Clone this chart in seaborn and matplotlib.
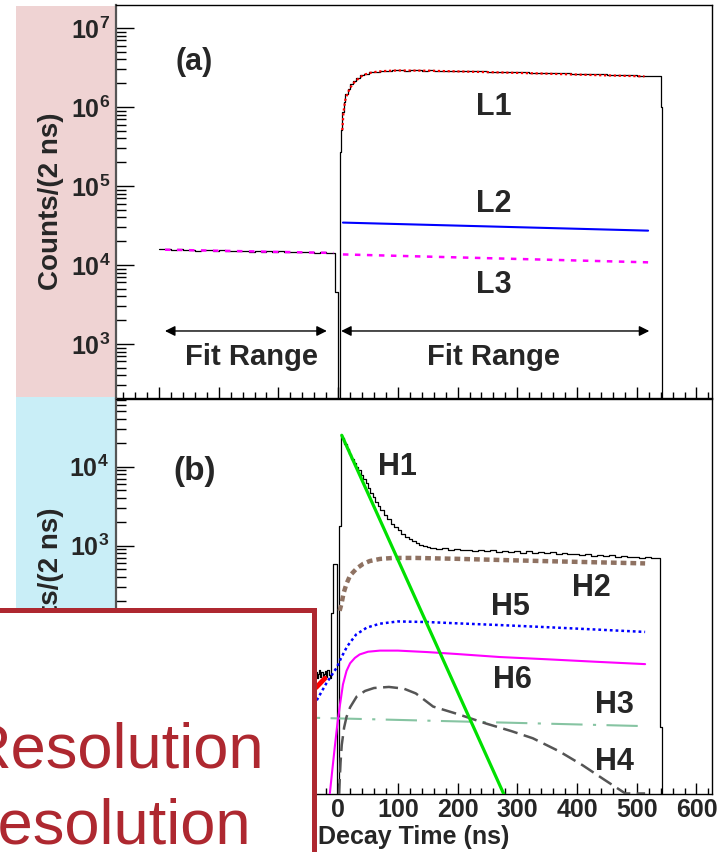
import numpy as np
import pandas as pd
import matplotlib
matplotlib.use("Agg")
import matplotlib.pyplot as plt
import seaborn as sns
from matplotlib.patches import Rectangle
from matplotlib.ticker import LogLocator, MultipleLocator, FuncFormatter, NullFormatter

# ---------------- data ----------------
# panel (a): black histogram, bin starts (ns) and counts per 2 ns
a_bin_start = [-300, -290, -280, -270, -260, -250, -240, -230, -220, -210, -200, -190, -180, -170,
               -160, -150, -140, -130, -120, -110, -100, -90, -80, -70, -60, -50, -40, -30, -20,
               -10, -6, -1, 3, 5, 7, 9, 12, 16, 20, 25, 30, 36, 44, 52, 60, 70, 80,
               90, 100, 110, 120, 130, 140, 150, 160, 170, 180, 190, 200, 210, 220, 230, 240, 250,
               260, 270, 280, 290, 300, 310, 320, 330, 340, 350, 360, 370, 380, 390, 400, 410, 420,
               430, 440, 450, 460, 470, 480, 490, 500, 510, 520, 530,
               540, 541.5, 543]
a_counts = [1.60e4, 1.57e4, 1.55e4, 1.58e4, 1.54e4, 1.56e4, 1.52e4, 1.55e4, 1.53e4, 1.50e4, 1.54e4,
            1.51e4, 1.49e4, 1.52e4, 1.50e4, 1.48e4, 1.51e4, 1.47e4, 1.50e4, 1.46e4, 1.49e4, 1.47e4,
            1.45e4, 1.48e4, 1.44e4, 1.46e4, 1.43e4, 1.45e4, 1.42e4,
            1.40e4, 4.6e3, 0, 2.7e5, 5.1e5, 8.7e5, 1.15e6, 1.45e6, 1.70e6, 1.95e6, 2.15e6, 2.35e6,
            2.52e6, 2.65e6, 2.74e6, 2.80e6, 2.85e6, 2.88e6,
            2.90e6, 2.91e6, 2.89e6, 2.92e6, 2.90e6, 2.88e6, 2.90e6, 2.87e6, 2.88e6, 2.86e6, 2.87e6,
            2.84e6, 2.85e6, 2.83e6, 2.82e6, 2.83e6, 2.80e6, 2.79e6, 2.80e6, 2.77e6, 2.76e6, 2.77e6,
            2.74e6, 2.73e6, 2.72e6, 2.71e6, 2.69e6, 2.70e6, 2.67e6, 2.66e6, 2.65e6, 2.63e6, 2.62e6,
            2.61e6, 2.59e6, 2.58e6, 2.57e6, 2.55e6, 2.54e6, 2.53e6, 2.51e6, 2.50e6, 2.48e6, 2.47e6,
            2.46e6,
            1.0e6, 4.3e4, 0]
a_end = 626

# panel (a) fit curves
L1_t = [7, 9, 12, 16, 20, 25, 30, 37, 45, 53, 65, 80, 100, 150, 200, 250, 300, 350, 400, 450, 513]
L1_c = [5.1e5, 8.7e5, 1.23e6, 1.5e6, 1.74e6, 1.98e6, 2.15e6, 2.4e6, 2.58e6, 2.7e6, 2.8e6, 2.86e6,
        2.9e6, 2.88e6, 2.82e6, 2.76e6, 2.7e6, 2.64e6, 2.57e6, 2.51e6, 2.44e6]
L2_t = [8, 519]
L2_c = [3.44e4, 2.72e4]
L3_t = [8, 519]
L3_c = [1.36e4, 1.08e4]
L3left_t = [-290, -8]
L3left_c = [1.56e4, 1.42e4]

# panel (b): black histogram
b_bin_start = [-300, -290, -280, -270, -260, -250, -240, -230, -220, -210, -200, -190, -180, -170,
               -160, -150, -140, -130, -120, -110, -100, -90, -80, -70, -60, -50,
               -40, -38, -36, -34, -32, -30, -28, -26, -24, -22, -20, -18, -16, -14,
               -12, -8, -2, 2, 4, 6, 10, 14, 18, 22, 26, 30, 34, 38, 42, 46, 50, 54, 58, 62, 66,
               70, 76, 82, 88, 94, 100, 106, 112, 118, 124, 130, 136, 142, 148,
               154, 164, 174, 184, 194, 204, 214, 224, 234, 244, 254, 264, 274, 284, 294, 304, 314,
               324, 334, 344, 354, 364, 374, 384, 394, 404, 414, 424, 434, 444, 454, 464, 474, 484,
               494, 504, 514, 524,
               534, 539, 543]
b_counts = [22, 20, 23, 21, 24, 19, 22, 25, 21, 23, 20, 22, 24, 21, 23, 20, 22, 25, 21, 23, 22, 20,
            24, 21, 23, 22,
            23, 25, 21, 24, 27, 22, 25, 20, 24, 26, 22, 27, 23, 21,
            140, 580, 0, 1800, 25000, 23000, 19500, 16800, 14500, 12600, 11000, 9900, 9000, 7900,
            6900, 6200, 5400, 4700, 4100, 3600, 3200,
            2800, 2450, 2150, 1900, 1720, 1560, 1420, 1300, 1210, 1140, 1070, 1030, 990, 970,
            945, 915, 930, 885, 905, 870, 895, 860, 880, 850, 875, 840, 865, 835, 850, 820, 845,
            815, 830, 800, 825, 790, 810, 780, 795, 765, 785, 750, 770, 740, 755, 725, 745, 715,
            730, 700, 720, 695,
            690, 5, 0]
b_end = 626

# panel (b) fit components
H1_t = [6, 278]
H1_c = [2.5e4, 0.7]
H2_t = [2.5, 6, 9, 14, 20, 31, 42, 53, 70, 92, 130, 200, 270, 350, 430, 514]
H2_c = [150, 190, 250, 330, 420, 515, 590, 640, 680, 700, 700, 682, 660, 637, 617, 597]
H3_t = [-290, 514]
H3_c = [7.4, 5.2]
H4_t = [1.5, 4, 6, 10, 14, 20, 31, 45, 60, 85, 110, 130, 159, 200, 248, 290, 326, 370, 409, 445,
        481, 514]
H4_c = [0.72, 1.8, 3.0, 5.0, 6.8, 9.0, 12.3, 14.5, 15.8, 16.3, 15.5, 13.5, 9.2, 7.4, 5.6, 4.5,
        3.65, 2.5, 1.67, 1.1, 0.73, 0.73]
H5_t = [-40, -36, -20, -2, 5, 15, 30, 48, 70, 100, 150, 200, 270, 350, 430, 514]
H5_c = [9.5, 11, 18, 29, 38, 53, 75, 92, 103, 110, 108, 104, 99, 93, 87, 81]
H6_t = [-14, -10, -5.5, -2, 2, 8, 14, 20, 28, 36, 50, 70, 100, 150, 200, 270, 350, 430, 514]
H6_c = [0.72, 1.4, 2.9, 5, 8.5, 17.5, 26, 32.5, 38, 42, 45.5, 47, 47, 45, 42.5, 39, 36.5, 34, 31.7]
Hred_t = [-37, -22]
Hred_c = [16, 21]

x_ticks_major = [-300, -200, -100, 0, 100, 200, 300, 400, 500, 600]

# ---------------- style ----------------
sns.set_theme(style="ticks")
plt.rcParams["font.family"] = ["Liberation Sans", "DejaVu Sans"]
plt.rcParams["font.weight"] = "bold"
plt.rcParams["mathtext.fontset"] = "custom"
for k in ("rm", "it", "bf", "sf"):
    plt.rcParams["mathtext." + k] = "Liberation Sans:bold"

W, H = 719, 852
fig = plt.figure(figsize=(W / 100, H / 100), dpi=100)
fig.patch.set_facecolor("white")


def fx(px):
    return px / W


def fy(py):
    return 1 - py / H


# coloured side panels behind the y-axis labels
fig.add_artist(Rectangle((fx(16), fy(397)), fx(115) - fx(16), fy(6) - fy(397),
                         transform=fig.transFigure, facecolor="#efd3d3", edgecolor="none", zorder=-2))
fig.add_artist(Rectangle((fx(16), fy(852)), fx(115) - fx(16), fy(397) - fy(852),
                         transform=fig.transFigure, facecolor="#c9eef7", edgecolor="none", zorder=-2))

ax_a = fig.add_axes([fx(116), fy(398), fx(712) - fx(116), fy(5) - fy(398)])
ax_b = fig.add_axes([fx(116), fy(794), fx(712) - fx(116), fy(399) - fy(794)])

FLOOR = 1e-3


def hist(ax, starts, counts, end):
    t = list(starts) + [end]
    c = [v if v > 0 else FLOOR for v in counts]
    c = c + [c[-1]]
    df = pd.DataFrame({"t": t, "c": c})
    sns.lineplot(data=df, x="t", y="c", ax=ax, estimator=None, sort=False, legend=False,
                 drawstyle="steps-post", color="black", linewidth=0.9, zorder=2)


def curve(ax, t, c, color, lw, ls="-", z=3):
    df = pd.DataFrame({"t": t, "c": c})
    sns.lineplot(data=df, x="t", y="c", ax=ax, estimator=None, sort=False, legend=False,
                 color=color, linewidth=lw, linestyle=ls, zorder=z)


for ax in (ax_a, ax_b):
    ax.set_yscale("log")
    ax.set_facecolor("white")

# ---- panel (a)
hist(ax_a, a_bin_start, a_counts, a_end)
curve(ax_a, L3left_t, L3left_c, "#ff00ff", 1.8, (0, (2.2, 2.6)))
curve(ax_a, L1_t, L1_c, "#ff0000", 1.6, (0, (1, 1.2)))
curve(ax_a, L2_t, L2_c, "#0000ff", 1.5)
curve(ax_a, L3_t, L3_c, "#ff00ff", 1.8, (0, (2.2, 2.6)))

ax_a.set_ylim(10 ** 2.316, 10 ** 7.291)
ax_a.text(-242, 2.94e6, "(a)", fontsize=22, ha="center", va="baseline")
for s, yy in (("L1", 7.9e5), ("L2", 4.73e4), ("L3", 4.47e3)):
    ax_a.text(260, yy, s, fontsize=22, ha="center", va="baseline")
arrow_kw = dict(arrowstyle="<|-|>", color="black", lw=1, mutation_scale=15, shrinkA=0, shrinkB=0)
ax_a.annotate("", xy=(-290, 1.46e3), xytext=(-19, 1.46e3), arrowprops=arrow_kw)
ax_a.annotate("", xy=(5, 1.46e3), xytext=(521, 1.46e3), arrowprops=arrow_kw)
ax_a.text(-145, 542, "Fit Range", fontsize=21, ha="center", va="baseline")
ax_a.text(260, 542, "Fit Range", fontsize=21, ha="center", va="baseline")

# ---- panel (b)
hist(ax_b, b_bin_start, b_counts, b_end)
curve(ax_b, H3_t, H3_c, "#86c4a2", 1.5, (0, (15, 5, 1.5, 5)))
curve(ax_b, H4_t, H4_c, "#555555", 1.8, (0, (6, 2.6)))
curve(ax_b, H6_t, H6_c, "#ff00ff", 1.5)
curve(ax_b, H5_t, H5_c, "#0000ff", 1.8, (0, (1.1, 1.2)))
curve(ax_b, H2_t, H2_c, "#8f7262", 3.2, (0, (1.3, 0.9)))
curve(ax_b, Hred_t, Hred_c, "#ff0000", 3.5)
curve(ax_b, H1_t, H1_c, "#00e000", 2.3, z=4)

ax_b.set_ylim(10 ** -0.143, 10 ** 4.857)
ax_b.text(-240, 6.8e3, "(b)", fontsize=24, ha="center", va="baseline")
for s, xx, yy in (("H1", 100, 7.85e3), ("H2", 424, 233), ("H5", 289, 132), ("H6", 292, 15.7),
                  ("H3", 463, 7.55), ("H4", 463, 1.45)):
    ax_b.text(xx, yy, s, fontsize=22, ha="center", va="baseline")


# ---- axes styling
def log_fmt(min_shown):
    def f(v, p):
        if v < min_shown:
            return ""
        return r"$10^{%d}$" % int(round(np.log10(v)))
    return FuncFormatter(f)


for ax, pad, min_shown in ((ax_a, 4, 0), (ax_b, 5, 500)):
    ax.set_xlim(-372, 626)
    ax.set_xticks(x_ticks_major)
    ax.xaxis.set_minor_locator(MultipleLocator(20))
    ax.yaxis.set_major_locator(LogLocator(base=10, numticks=20))
    ax.yaxis.set_minor_locator(LogLocator(base=10, subs=np.arange(2, 10), numticks=20))
    ax.yaxis.set_major_formatter(log_fmt(min_shown))
    ax.yaxis.set_minor_formatter(NullFormatter())
    ax.tick_params(which="both", direction="in", top=False, right=False, color="black")
    ax.tick_params(axis="y", which="major", length=13, width=1, pad=pad, labelsize=18)
    ax.tick_params(axis="y", which="minor", length=7, width=1)
    ax.tick_params(axis="x", which="major", length=8, width=1, pad=3, labelsize=18)
    ax.tick_params(axis="x", which="minor", length=4.5, width=1)
    for sp in ax.spines.values():
        sp.set_color("black")
        sp.set_linewidth(1)
    ax.spines["left"].set_linewidth(1.6)
    ax.spines["left"].set_color("#555555")
    ax.set_xlabel("")
    ax.set_ylabel("Counts/(2 ns)", fontsize=20, fontweight="bold", va="center")
    ax.yaxis.set_label_coords(-0.109, 0.5)

ax_a.tick_params(axis="x", labelbottom=False)
# tick labels left of 0 lie under the overlaid box in the reference
ax_b.xaxis.set_major_formatter(FuncFormatter(lambda v, p: "%d" % v if v >= 0 else ""))
ax_b.set_xlabel("Decay Time (ns)", fontsize=18, fontweight="bold")
ax_b.xaxis.set_label_coords(0.5, -0.078)

# ---- overlaid red box with text
red = "#ae2830"
fig.add_artist(Rectangle((fx(-20), fy(880)), fx(314) - fx(-20), fy(609.5) - fy(880),
                         transform=fig.transFigure, facecolor="white", edgecolor=red,
                         linewidth=3.6, zorder=10, clip_on=False))
fig.text(fx(264), fy(767), "Resolution", color=red, fontsize=45.5, fontweight="normal",
         ha="right", va="baseline", zorder=11)
fig.text(fx(251), fy(844), "Resolution", color=red, fontsize=45.5, fontweight="normal",
         ha="right", va="baseline", zorder=11)

fig.savefig("out.png", dpi=100)
